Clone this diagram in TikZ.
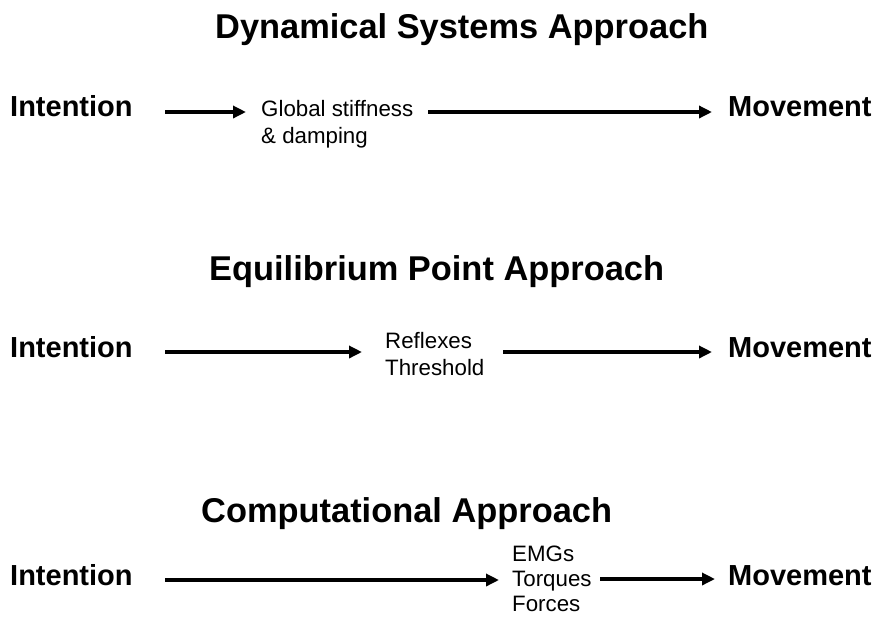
\documentclass[tikz,border=0pt]{standalone}
\usepackage{fontspec}
\setmainfont{Liberation Sans}
\usetikzlibrary{arrows.meta}
\begin{document}
\begin{tikzpicture}[x=1pt,y=-1pt,
  title/.style={anchor=base west,inner sep=0pt,font=\fontsize{34.4}{40}\selectfont\bfseries},
  endlabel/.style={anchor=base west,inner sep=0pt,font=\fontsize{29}{34}\selectfont\bfseries},
  midlabel/.style={anchor=base west,inner sep=0pt,font=\fontsize{22.3}{26}\selectfont},
  arr/.style={line width=3.4pt,-{Triangle[length=13pt,width=12pt]}}]
\useasboundingbox (0,0) rectangle (883,625);
% Row 1
\node[title] (t1) at (215,38) {Dynamical Systems Approach};
\node[endlabel] (i1) at (10,116) {Intention};
\node[midlabel] (g1) at (261,116) {Global stiffness};
\node[midlabel] (g2) at (261,143) {\& damping};
\node[endlabel] (m1) at (728,116) {Movement};
\coordinate (a1s) at (165,112);
\coordinate (a1e) at (246,112);
\coordinate (a2s) at (428,112);
\coordinate (a2e) at (712,112);
\draw[arr] (a1s) -- (a1e);
\draw[arr] (a2s) -- (a2e);
% Row 2
\node[title] (t2) at (209,280) {Equilibrium Point Approach};
\node[endlabel] (i2) at (10,357) {Intention};
\node[midlabel] (r1) at (385,348) {Reflexes};
\node[midlabel] (r2) at (385,375) {Threshold};
\node[endlabel] (m2) at (728,357) {Movement};
\coordinate (b1s) at (165,352);
\coordinate (b1e) at (362,352);
\coordinate (b2s) at (503,352);
\coordinate (b2e) at (712,352);
\draw[arr] (b1s) -- (b1e);
\draw[arr] (b2s) -- (b2e);
% Row 3
\node[title] (t3) at (201,522) {Computational Approach};
\node[endlabel] (i3) at (10,585) {Intention};
\node[midlabel] (e1) at (512,561) {EMGs};
\node[midlabel] (e2) at (512,586) {Torques};
\node[midlabel] (e3) at (512,611) {Forces};
\node[endlabel] (m3) at (728,585) {Movement};
\coordinate (c1s) at (165,580);
\coordinate (c1e) at (499,580);
\coordinate (c2s) at (600,579);
\coordinate (c2e) at (715,579);
\draw[arr] (c1s) -- (c1e);
\draw[arr] (c2s) -- (c2e);
\end{tikzpicture}
\end{document}
